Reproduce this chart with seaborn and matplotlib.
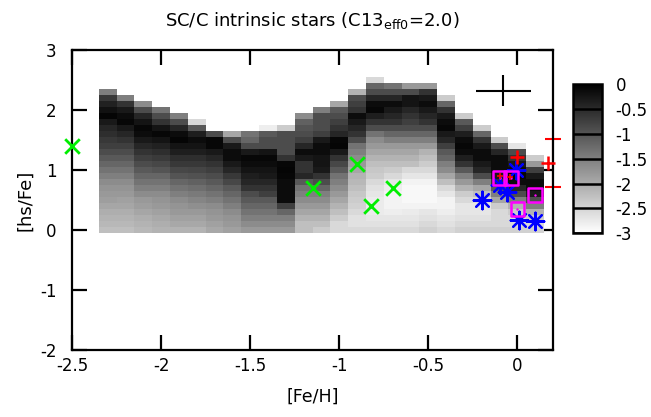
import numpy as np
import matplotlib
matplotlib.use("Agg")
import matplotlib.pyplot as plt
import seaborn as sns

# model grid: [Fe/H] column centres, [hs/Fe] row centres (step 0.1)
feh_cols = [-2.3, -2.2, -2.1, -2.0, -1.9, -1.8, -1.7, -1.6, -1.5, -1.4, -1.3, -1.2, -1.1,
            -1.0, -0.9, -0.8, -0.7, -0.6, -0.5, -0.4, -0.3, -0.2, -0.1, 0.0, 0.1]
hsfe_rows = [0.0, 0.1, 0.2, 0.3, 0.4, 0.5, 0.6, 0.7, 0.8, 0.9, 1.0, 1.1, 1.2,
             1.3, 1.4, 1.5, 1.6, 1.7, 1.8, 1.9, 2.0, 2.1, 2.2, 2.3, 2.4, 2.5]

# grey level (percent, 0 = black, 100 = white) per cell, one list per column,
# from the top cell down to [hs/Fe]=0;  log frequency = -3 * grey / 100
col_grey = [
    [50, 22, 13, 7, 2, 10, 15, 18, 22, 25, 30, 35, 40, 45, 50, 55, 58, 60, 62, 65, 68, 70, 72, 75],
    [50, 20, 10, 5, 3, 10, 15, 20, 25, 30, 35, 40, 45, 50, 55, 58, 60, 63, 65, 68, 70, 72, 75],
    [55, 30, 15, 8, 3, 5, 10, 15, 20, 25, 30, 35, 40, 45, 50, 55, 60, 62, 65, 68, 70, 72],
    [45, 30, 20, 8, 3, 8, 13, 18, 23, 28, 33, 40, 45, 50, 55, 58, 60, 63, 66, 68, 70],
    [50, 30, 15, 5, 2, 8, 12, 18, 22, 28, 33, 40, 45, 50, 55, 58, 60, 63, 66, 70],
    [85, 35, 12, 5, 8, 12, 18, 22, 27, 32, 38, 43, 48, 52, 56, 60, 63, 66, 70],
    [30, 3, 3, 10, 15, 20, 25, 30, 35, 40, 45, 50, 55, 58, 60, 63, 66],
    [65, 30, 10, 5, 5, 10, 15, 22, 28, 35, 40, 45, 50, 55, 58, 60, 63],
    [45, 40, 30, 10, 3, 5, 8, 12, 15, 20, 30, 35, 40, 45, 50, 55, 60],
    [93, 35, 30, 30, 8, 3, 5, 8, 10, 15, 20, 25, 35, 40, 45, 50, 55, 60],
    [80, 30, 30, 30, 30, 20, 3, 2, 3, 5, 5, 5, 5, 25, 40, 50, 55, 60],
    [55, 38, 33, 30, 25, 15, 5, 10, 20, 20, 15, 35, 45, 50, 55, 60, 65, 70, 75, 75],
    [50, 30, 30, 30, 25, 10, 5, 5, 8, 8, 10, 20, 30, 40, 50, 55, 60, 65, 70, 75, 80],
    [65, 35, 30, 25, 20, 15, 3, 2, 10, 20, 28, 35, 45, 50, 55, 60, 65, 70, 75, 80, 85, 85],
    [70, 30, 25, 20, 5, 10, 15, 20, 30, 45, 50, 55, 60, 65, 70, 72, 75, 78, 80, 82, 85, 88, 88, 85],
    [85, 40, 30, 15, 5, 3, 12, 20, 30, 45, 55, 60, 65, 70, 75, 78, 80, 85, 88, 90, 92, 92, 92, 90, 88, 85],
    [45, 30, 15, 5, 10, 15, 20, 30, 40, 50, 60, 65, 70, 75, 80, 85, 90, 93, 95, 95, 95, 93, 90, 88, 85],
    [60, 30, 8, 8, 15, 20, 25, 30, 40, 50, 60, 65, 70, 75, 85, 90, 95, 97, 97, 97, 95, 92, 90, 88, 85],
    [60, 20, 10, 5, 10, 15, 20, 30, 40, 50, 60, 70, 75, 80, 85, 90, 95, 97, 97, 97, 95, 90, 88, 85, 82],
    [80, 40, 20, 10, 5, 3, 10, 15, 25, 35, 40, 50, 55, 65, 75, 85, 90, 95, 95, 93, 90, 88, 85],
    [80, 35, 25, 12, 5, 3, 5, 12, 20, 35, 50, 60, 70, 80, 85, 90, 90, 88, 85, 82],
    [80, 40, 20, 10, 5, 5, 10, 15, 30, 50, 65, 75, 85, 90, 90, 88, 85, 82],
    [80, 30, 15, 5, 5, 5, 10, 20, 35, 50, 65, 80, 85, 85, 85, 82],
    [90, 30, 20, 10, 5, 3, 5, 15, 30, 50, 70, 80, 85, 85, 82],
    [80, 60, 25, 10, 5, 5, 10, 30, 50, 70, 80, 85, 82],
]

# observed stars
green_feh = [-2.5, -1.15, -0.9, -0.82, -0.7]
green_hs = [1.4, 0.7, 1.1, 0.4, 0.7]
blue_feh = [-0.2, -0.01, -0.1, -0.06, 0.01, 0.1]
blue_hs = [0.5, 1.0, 0.75, 0.64, 0.17, 0.15]
mag_feh = [-0.1, -0.035, 0.1, 0.0]
mag_hs = [0.87, 0.87, 0.58, 0.35]
red_feh = [0.0, 0.17]
red_hs = [1.22, 1.12]
red_small_feh = [-0.095, -0.04]
red_small_hs = [0.9, 0.88]

cb_ticks = [0, -0.5, -1, -1.5, -2, -2.5, -3]
cb_labels = ["0", "-0.5", "-1", "-1.5", "-2", "-2.5", "-3"]

# build the grid
Z = np.full((len(hsfe_rows), len(feh_cols)), np.nan)
for i, col in enumerate(col_grey):
    top = len(col) - 1
    for k, g in enumerate(col):
        Z[top - k, i] = -3.0 * g / 100.0

x_edges = np.append(np.array(feh_cols) - 0.05, feh_cols[-1] + 0.05)
y_edges = np.append(np.array(hsfe_rows) - 0.05, hsfe_rows[-1] + 0.05)

sns.set_style("ticks")
plt.rcParams["font.family"] = ["DejaVu Sans"]
plt.rcParams["font.size"] = 12
plt.rcParams["axes.linewidth"] = 1.6
for key in ["text.color", "axes.labelcolor", "axes.edgecolor", "xtick.color", "ytick.color"]:
    plt.rcParams[key] = "black"

fig = plt.figure(figsize=(6.51, 4.17), dpi=100)
ax = fig.add_axes([0.1106, 0.1607, 0.7389, 0.7194])
cax = fig.add_axes([0.8805, 0.4405, 0.0438, 0.358])

mesh = ax.pcolormesh(x_edges, y_edges, np.ma.masked_invalid(Z), cmap="gray_r",
                     vmin=-3, vmax=0, shading="flat", zorder=1)

sns.scatterplot(x=green_feh, y=green_hs, marker="x", s=110, color="#00ee00",
                linewidth=2, ax=ax, zorder=4, clip_on=False)
sns.scatterplot(x=blue_feh, y=blue_hs, marker=(8, 2, 0), s=160, color="#0000ff",
                linewidth=1.6, ax=ax, zorder=4)
sns.scatterplot(x=mag_feh, y=mag_hs, marker="s", s=95, facecolor="none",
                edgecolor="#ff00ff", linewidth=1.8, ax=ax, zorder=5)
sns.scatterplot(x=mag_feh, y=mag_hs, marker="o", s=3, color="#ff00ff",
                linewidth=0, ax=ax, zorder=5)
sns.scatterplot(x=red_feh, y=red_hs, marker="+", s=110, color="#ff0000",
                linewidth=1.8, ax=ax, zorder=4, clip_on=False)
sns.scatterplot(x=red_small_feh, y=red_small_hs, marker="+", s=18, color="#ff0000",
                linewidth=1.2, ax=ax, zorder=6)

# typical error cross and the error bar on the right border
ax.errorbar(-0.08, 2.32, xerr=0.155, yerr=0.26, fmt="none", ecolor="black",
            elinewidth=1.5, capsize=0, zorder=3)
eb = ax.errorbar(0.2, 1.12, yerr=0.4, fmt="none", ecolor="#ff0000",
                 elinewidth=1.5, capsize=6, capthick=1.5, zorder=2)
for c in eb[1]:
    c.set_clip_on(False)

ax.set_xlim(-2.5, 0.2)
ax.set_ylim(-2, 3)
ax.set_xticks([-2.5, -2, -1.5, -1, -0.5, 0])
ax.set_xticklabels(["-2.5", "-2", "-1.5", "-1", "-0.5", "0"])
ax.set_yticks([-2, -1, 0, 1, 2, 3])
ax.set_yticklabels(["-2", "-1", "0", "1", "2", "3"])
ax.tick_params(direction="in", top=True, right=True, length=10.5, width=1.6,
               labelsize=12)
ax.tick_params(axis="x", pad=5)
ax.tick_params(axis="y", pad=11)
ax.set_xlabel("[Fe/H]", fontsize=12.5)
ax.set_ylabel("[hs/Fe]", fontsize=13)
ax.xaxis.set_label_coords(0.5, -0.125)
ax.yaxis.set_label_coords(-0.078, 0.5)
ax.set_title("SC/C intrinsic stars (C13$_\\mathregular{eff0}$=2.0)", fontsize=13, pad=17)

cbar = fig.colorbar(mesh, cax=cax, ticks=cb_ticks)
cbar.ax.set_yticklabels(cb_labels)
cbar.ax.tick_params(length=0, pad=10, labelsize=12)
cbar.outline.set_linewidth(1.8)
cbar.outline.set_edgecolor("black")
for t in cb_ticks:
    cbar.ax.axhline(t, color="black", lw=1.8)

fig.savefig("out.png", dpi=100)
